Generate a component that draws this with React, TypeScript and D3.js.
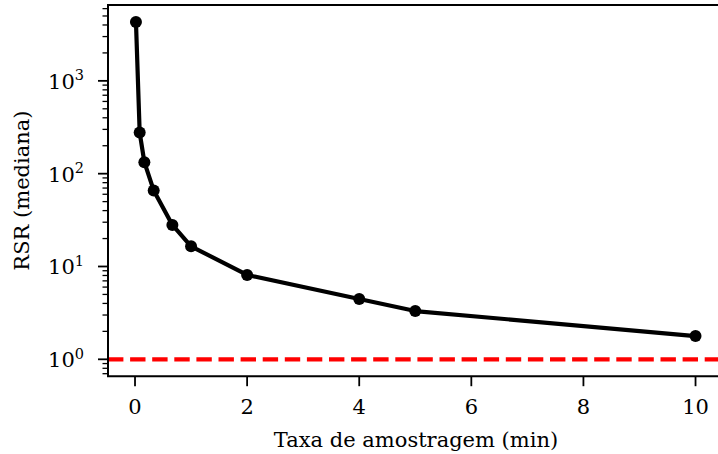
import React, { useEffect, useRef } from 'react';
import * as d3 from 'd3';

// sampling interval (min) and median RSR
const intervals = [0.0167, 0.0833, 0.1667, 0.3333, 0.6667, 1, 2, 4, 5, 10];
const rsrMedian = [4313, 277, 133, 66, 28, 16.5, 8.1, 4.47, 3.31, 1.78];
const xTicks = [0, 2, 4, 6, 8, 10];
const yDecades = [0, 1, 2, 3];
const referenceLevel = 1;

const App = () => {
  const svgRef = useRef<SVGSVGElement | null>(null);

  useEffect(() => {
    if (!svgRef.current) return;
    document.body.style.margin = '0';

    const width = 718;
    const height = 454;
    const svg = d3.select(svgRef.current);
    svg.attr('width', width).attr('height', height);
    svg.selectAll('*').remove();

    const left = 108;
    const right = 723.5;
    const top = 5;
    const bottom = 376.2;
    const font = 'DejaVu Serif';
    const fs = '21px';

    const x = d3.scaleLinear().domain([-0.482, 10.499]).range([left, right]);
    const y = d3.scaleLog().domain([0.6577, 6565]).range([bottom, top]);

    // red reference line
    svg.append('line')
      .attr('x1', left).attr('x2', right)
      .attr('y1', y(referenceLevel)).attr('y2', y(referenceLevel))
      .attr('stroke', '#ff0000')
      .attr('stroke-width', 4.2)
      .attr('stroke-dasharray', '15.4,6.7');

    const pts = intervals.map((v, i) => ({ x: v, y: rsrMedian[i] }));
    const line = d3.line<{ x: number; y: number }>().x(d => x(d.x)).y(d => y(d.y));

    svg.append('path')
      .attr('d', line(pts))
      .attr('fill', 'none')
      .attr('stroke', '#000')
      .attr('stroke-width', 4.2)
      .attr('stroke-linejoin', 'round');

    svg.selectAll('circle.pt')
      .data(pts)
      .enter().append('circle')
      .attr('class', 'pt')
      .attr('cx', d => x(d.x))
      .attr('cy', d => y(d.y))
      .attr('r', 6)
      .attr('fill', '#000');

    // spines
    svg.append('path')
      .attr('d', `M${right},${top}H${left}V${bottom}H${right}`)
      .attr('fill', 'none')
      .attr('stroke', '#000')
      .attr('stroke-width', 2);

    // x ticks
    xTicks.forEach(t => {
      svg.append('line')
        .attr('x1', x(t)).attr('x2', x(t))
        .attr('y1', bottom).attr('y2', bottom + 10)
        .attr('stroke', '#000').attr('stroke-width', 1.8);
      svg.append('text')
        .attr('x', x(t)).attr('y', 414)
        .attr('text-anchor', 'middle')
        .style('font-family', font).style('font-size', fs)
        .attr('fill', '#000')
        .text(t);
    });

    // y ticks (major + minor)
    yDecades.forEach(p => {
      const v = Math.pow(10, p);
      svg.append('line')
        .attr('x1', left - 10).attr('x2', left)
        .attr('y1', y(v)).attr('y2', y(v))
        .attr('stroke', '#000').attr('stroke-width', 1.8);
      const t = svg.append('text')
        .attr('x', 84).attr('y', y(v) + 8)
        .attr('text-anchor', 'end')
        .style('font-family', font).style('font-size', fs)
        .attr('fill', '#000');
      t.append('tspan').text('10');
      t.append('tspan').attr('dy', -8.5).style('font-size', '14.5px').text(p);
    });
    const minor: number[] = [];
    [-1, 0, 1, 2, 3].forEach(p => {
      for (let k = 2; k <= 9; k++) {
        const v = k * Math.pow(10, p);
        if (v >= y.domain()[0] && v <= y.domain()[1]) minor.push(v);
      }
    });
    minor.forEach(v => {
      svg.append('line')
        .attr('x1', left - 5.5).attr('x2', left)
        .attr('y1', y(v)).attr('y2', y(v))
        .attr('stroke', '#000').attr('stroke-width', 1.3);
    });

    // axis labels
    svg.append('text')
      .attr('x', 416).attr('y', 447)
      .attr('text-anchor', 'middle')
      .style('font-family', font).style('font-size', fs)
      .attr('fill', '#000')
      .text('Taxa de amostragem (min)');

    svg.append('text')
      .attr('transform', `translate(29,${(top + bottom) / 2}) rotate(-90)`)
      .attr('text-anchor', 'middle')
      .style('font-family', font).style('font-size', fs)
      .attr('fill', '#000')
      .text('RSR (mediana)');
  }, []);

  return (
    <div>
      <svg ref={svgRef}></svg>
    </div>
  );
};

export default App;
